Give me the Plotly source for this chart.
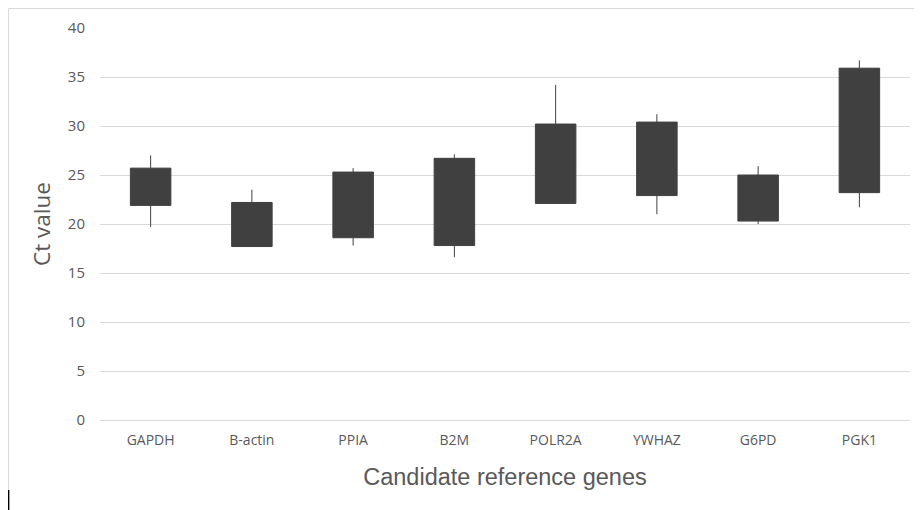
import plotly.graph_objects as go

genes = ["GAPDH", "B-actin", "PPIA", "B2M", "POLR2A", "YWHAZ", "G6PD", "PGK1"]
box_low = [21.9, 17.7, 18.6, 17.8, 22.1, 22.9, 20.3, 23.2]
box_high = [25.7, 22.2, 25.3, 26.7, 30.2, 30.4, 25.0, 35.9]
whisk_low = [19.7, 17.7, 17.8, 16.6, 22.1, 21.0, 20.0, 21.7]
whisk_high = [27.0, 23.5, 25.7, 27.1, 34.2, 31.2, 25.9, 36.7]

dark = "#404040"
txt = "#595959"
sans = "Open Sans, Liberation Sans, sans-serif"

fig = go.Figure()
fig.add_trace(go.Box(
    x=genes,
    q1=box_low,
    median=box_high,
    q3=box_high,
    lowerfence=whisk_low,
    upperfence=whisk_high,
    fillcolor=dark,
    line=dict(color=dark, width=1),
    whiskerwidth=0,
    width=0.4,
    boxpoints=False,
    hoverinfo="skip",
    showlegend=False,
))

fig.update_layout(
    width=922, height=510,
    margin=dict(l=92, r=20, t=20, b=98),
    paper_bgcolor="white", plot_bgcolor="white",
    font=dict(family=sans, color=txt, size=12),
    xaxis=dict(
        automargin=False,
        range=[-0.5, len(genes) - 0.5],
        showgrid=False, showline=False, zeroline=False, ticks="",
        ticklabelstandoff=10,
        tickfont=dict(size=14, color=txt, family=sans),
        title=dict(text="Candidate reference genes",
                   font=dict(size=23.5, color=txt, family="Liberation Sans, Arial, sans-serif"),
                   standoff=20),
    ),
    yaxis=dict(
        automargin=False,
        range=[0, 40], dtick=5, showgrid=True, gridcolor="#d9d9d9", gridwidth=1,
        zeroline=True, zerolinecolor="#d9d9d9", zerolinewidth=1,
        showline=False, ticks="", ticklabelstandoff=14,
        tickfont=dict(size=15, color=txt, family=sans),
        title=dict(text="Ct value", font=dict(size=22.5, color=txt, family=sans), standoff=10),
    ),
    shapes=[
        dict(type="rect", xref="paper", yref="paper",
             x0=-0.113, x1=1.03, y0=-0.3, y1=1.0497,
             line=dict(color="#d9d9d9", width=1), layer="below"),
        dict(type="line", xref="paper", yref="paper",
             x0=-0.1128, x1=-0.1128, y0=-0.1786, y1=-0.23,
             line=dict(color="black", width=1.5)),
    ],
)

fig.write_html("out.html")
